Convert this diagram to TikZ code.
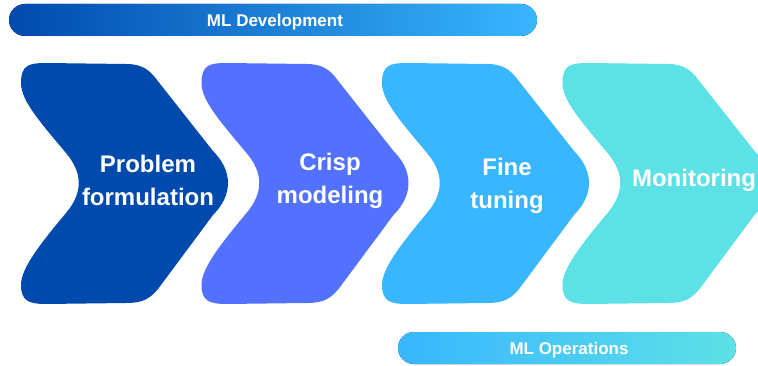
\documentclass[tikz,border=0pt]{standalone}
\usepackage{fontspec}
\setmainfont{Liberation Sans}

\definecolor{navyblue}{HTML}{004AAD}
\definecolor{royalblue}{HTML}{5271FF}
\definecolor{skyblue}{HTML}{38B6FF}
\definecolor{turquoise}{HTML}{5CE1E6}

\tikzset{
	stage/.pic={
		\fill[pic actions] (0,20) .. controls (0,2) and (8,0) .. (25,0)
			-- (105,1) .. controls (120,1) and (128,6) .. (136,17)
			-- (192,88) .. controls (212,108) and (212,132) .. (192,152)
			-- (140,222) .. controls (130,236) and (122,240) .. (105,240)
			-- (25,241) .. controls (8,241) and (0,238) .. (0,222)
			.. controls (0,205) and (20,180) .. (45,150)
			.. controls (62,130) and (62,110) .. (45,90)
			.. controls (20,60) and (0,38) .. (0,20) -- cycle;
	},
	stagetext/.style={text=white, font=\bfseries\fontsize{24}{33}\selectfont, align=center},
	phasebar/.style={rounded corners=16pt},
	phasetext/.style={text=white, anchor=base, font=\bfseries\fontsize{17}{20}\selectfont}
}

\begin{document}
\begin{tikzpicture}[x=1pt, y=-1pt]
				\useasboundingbox (0,0) rectangle (758,366);
				\clip (0,0) rectangle (758,366);
				% phase bars
				\fill[phasebar, left color=navyblue, middle color=royalblue, right color=skyblue] (9,4) rectangle (537,36);
				\node[phasetext] (dev) at (275,26.5) {ML Development};
				\fill[phasebar, left color=skyblue, right color=turquoise] (398,332) rectangle (736,364);
				\node[phasetext] (ops) at (569,354.5) {ML Operations};
				% stages
				\pic[fill=navyblue] at (21,63) {stage};
				\pic[fill=royalblue] at (201.5,63) {stage};
				\pic[fill=skyblue] at (382,63) {stage};
				\pic[fill=turquoise] at (562.5,63) {stage};
				\node[stagetext] (problem) at (148,180) {Problem\\formulation};
				\node[stagetext] (crisp) at (330,181) {Crisp\\modeling};
				\node[stagetext] (tuning) at (507,186) {Fine\\tuning};
				\node[stagetext, anchor=base] (monitor) at (694,187) {Monitoring};
			\end{tikzpicture}
\end{document}
